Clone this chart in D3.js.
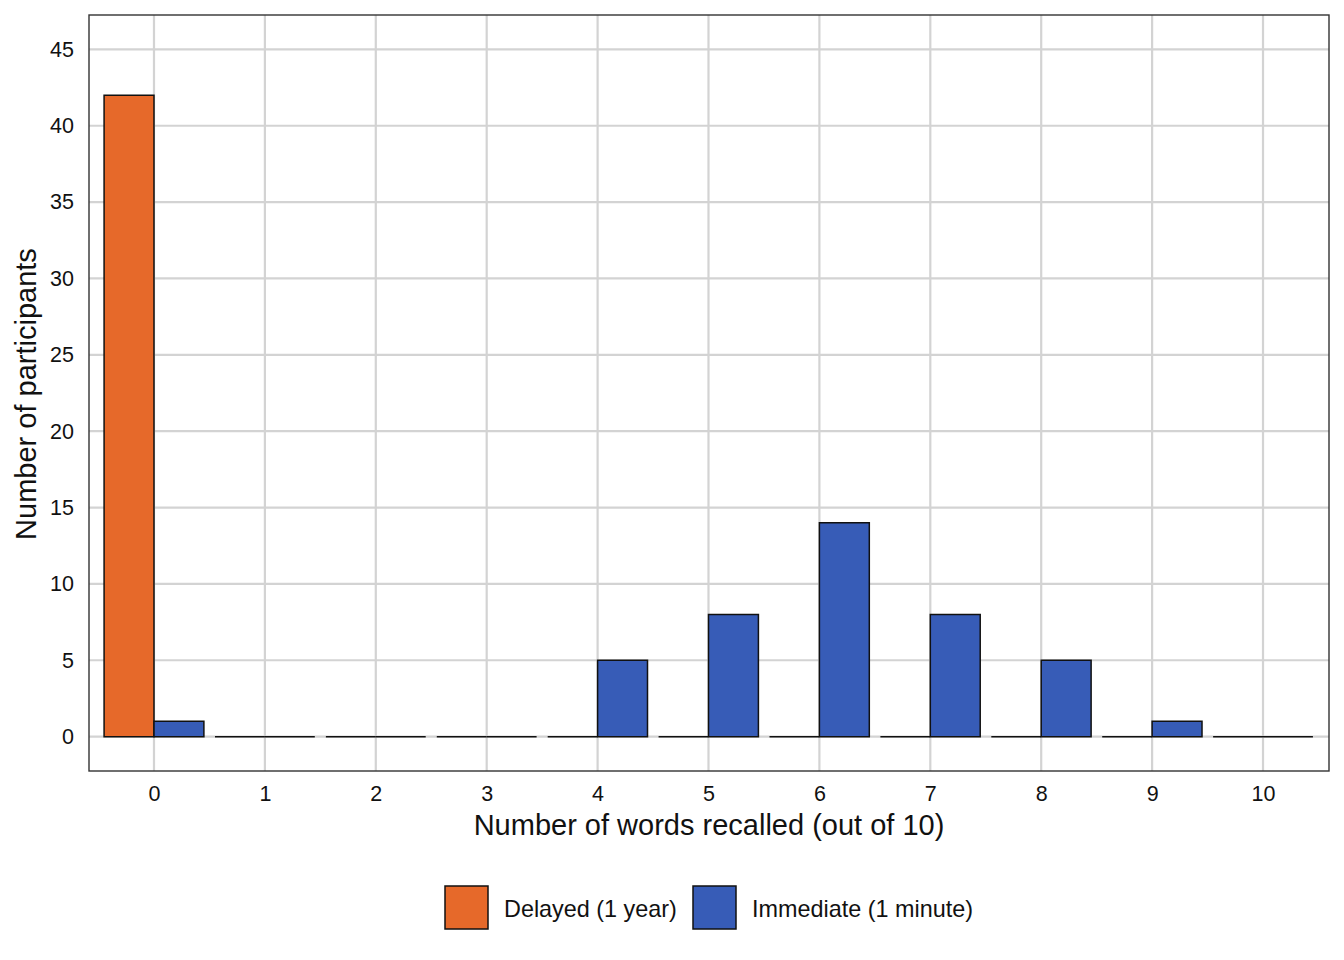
<!DOCTYPE html>
<html><head><meta charset="utf-8">
<script src="https://cdn.jsdelivr.net/npm/d3@7"></script>
<style>body{margin:0;background:#fff;} svg{display:block;font-family:"Liberation Sans",Arial,sans-serif;}</style>
</head><body>
<svg id="c" width="1344" height="960"></svg>
<script>
const categories = [0,1,2,3,4,5,6,7,8,9,10];
const delayed = [42,0,0,0,0,0,0,0,0,0,0];
const immediate = [1,0,0,0,5,8,14,8,5,1,0];
const yTicks = [0,5,10,15,20,25,30,35,40,45];
const seriesNames = ["Delayed (1 year)","Immediate (1 minute)"];
const seriesColors = ["#E6692A","#375CB7"];

const svg = d3.select("#c");
const L=89, R=1329, T=15, B=771;
const x = d3.scaleLinear().domain([-0.586,10.595]).range([L,R]);
const y = d3.scaleLinear().domain([-2.25,47.25]).range([B,T]);

const g = svg.append("g");
// grid
g.selectAll(".gy").data(yTicks).enter().append("line")
  .attr("x1",L).attr("x2",R).attr("y1",d=>y(d)).attr("y2",d=>y(d))
  .attr("stroke","#d3d3d3").attr("stroke-width",2.2);
g.selectAll(".gx").data(categories).enter().append("line")
  .attr("y1",T).attr("y2",B).attr("x1",d=>x(d)).attr("x2",d=>x(d))
  .attr("stroke","#d3d3d3").attr("stroke-width",2.2);

const bw = 0.45;
const series = [delayed, immediate];
series.forEach((vals,si)=>{
  g.selectAll(".b"+si).data(categories).enter().append("path")
    .attr("d",(d,i)=>{
      const x0 = x(d - bw + si*bw), x1 = x(d + si*bw);
      const y0 = y(0), y1 = y(vals[i]);
      return `M${x0},${y0}V${y1}H${x1}V${y0}Z`;
    })
    .attr("fill",seriesColors[si])
    .attr("stroke","#111").attr("stroke-width",1.5).attr("stroke-linejoin","miter");
});

// panel border
svg.append("rect").attr("x",L).attr("y",T).attr("width",R-L).attr("height",B-T)
  .attr("fill","none").attr("stroke","#333").attr("stroke-width",1.4);

// axes via d3
const xa = svg.append("g").attr("transform",`translate(0,${B})`)
  .call(d3.axisBottom(x).tickValues(categories).tickSize(0).tickPadding(15).tickFormat(d3.format("d")));
const ya = svg.append("g").attr("transform",`translate(${L},0)`)
  .call(d3.axisLeft(y).tickValues(yTicks).tickSize(0).tickPadding(15).tickFormat(d3.format("d")));
[xa,ya].forEach(a=>{a.select(".domain").remove(); a.selectAll("text").attr("font-size",21.5).attr("fill","#111").attr("font-family","Liberation Sans, Arial, sans-serif");});

svg.append("text").attr("x",709).attr("y",835).attr("text-anchor","middle")
  .attr("font-size",29).attr("fill","#111").text("Number of words recalled (out of 10)");
svg.append("text").attr("transform",`translate(36,394) rotate(-90)`).attr("text-anchor","middle")
  .attr("font-size",29).attr("fill","#111").text("Number of participants");

// legend
const lg = svg.append("g");
const keyX = [445, 693];
seriesNames.forEach((n,i)=>{
  lg.append("rect").attr("x",keyX[i]).attr("y",886).attr("width",43).attr("height",43)
    .attr("fill",seriesColors[i]).attr("stroke","#111").attr("stroke-width",1.5);
  lg.append("text").attr("x",keyX[i]+59).attr("y",916.5).attr("font-size",23.4).attr("fill","#111").text(n);
});
</script>
</body></html>
